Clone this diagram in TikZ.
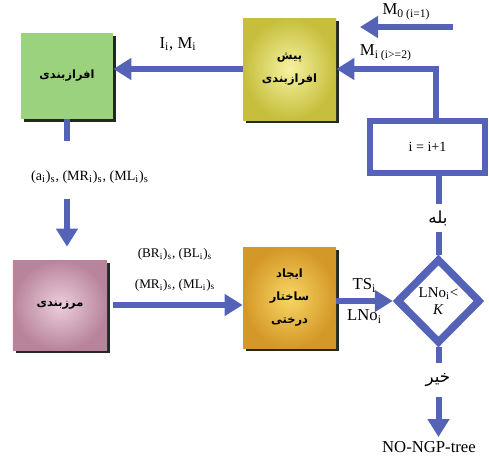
\documentclass[tikz,border=0pt]{standalone}
\usepackage{fontspec}
\setmainfont{Liberation Serif}
\newfontfamily\farsifont[Script=Arabic]{DejaVu Sans}
\TeXXeTstate=1
\usepackage{xcolor}
\usepackage{tikz}
\usetikzlibrary{arrows.meta, positioning, shapes.geometric, shadows}

\definecolor{flowblue}{RGB}{84,98,184}
\definecolor{shadowdark}{RGB}{32,42,32}
\definecolor{boxgreen}{RGB}{155,210,125}
\definecolor{yellowin}{RGB}{246,242,160}
\definecolor{yellowout}{RGB}{198,190,60}
\definecolor{pinkin}{RGB}{236,206,220}
\definecolor{pinkout}{RGB}{184,132,156}
\definecolor{orangein}{RGB}{248,214,100}
\definecolor{orangeout}{RGB}{212,152,40}

\newcommand{\fatxt}[1]{{\farsifont\bfseries\beginR #1\endR}}
\newcommand{\fasmall}[1]{{\farsifont\beginR #1\endR}}

\begin{document}
\begin{tikzpicture}[
        node distance=4.5cm,
        % Node styles
        box/.style={rectangle, minimum width=1.86cm, minimum height=2.04cm, text centered, align=center,
                    inner sep=0pt, font=\fontsize{6.5}{13}\selectfont,
                    drop shadow={shadow xshift=0.06cm, shadow yshift=-0.06cm, fill=shadowdark, opacity=1}},
        greenbox/.style={box, fill=boxgreen, minimum width=1.84cm, minimum height=1.72cm},
        yellowbox/.style={box, inner color=yellowin, outer color=yellowout},
        pinkbox/.style={box, inner color=pinkin, outer color=pinkout, minimum width=1.88cm, minimum height=1.80cm},
        orangebox/.style={box, inner color=orangein, outer color=orangeout, minimum height=2.02cm},
        counter/.style={rectangle, draw=flowblue, line width=0.13cm, fill=white, minimum width=2.30cm,
                        minimum height=1.04cm, font=\fontsize{8}{10}\selectfont},
        decision/.style={diamond, draw=flowblue, line width=0.15cm, fill=white, align=center, inner sep=0pt,
                         minimum width=1.68cm, minimum height=1.70cm, font=\fontsize{8.5}{10}\selectfont},
        tag/.style={inner sep=0pt, font=\fontsize{9.5}{11}\selectfont},
        smalltag/.style={inner sep=0pt, align=center, font=\fontsize{7.5}{9}\selectfont},
        flowline/.style={draw=flowblue, line width=0.12cm},
        arrow/.style={flowline, -{Triangle[length=0.36cm, width=0.42cm]}}
    ]
        \useasboundingbox (0,0) rectangle (9.78,-9.12);

        % Main boxes
        \node[greenbox] (green) at (1.34,-1.52) {\fatxt{افرازبندی}};
        \node[yellowbox, right of=green, xshift=-0.05cm, yshift=0.14cm] (pre) {\fatxt{پیش}\\\fatxt{افرازبندی}};
        \node[pinkbox, below of=green, xshift=-0.14cm, yshift=-0.08cm] (pink) {\fatxt{مرزبندی}};
        \node[orangebox, right of=pink, xshift=0.09cm, yshift=0.15cm] (tree) {\fatxt{ایجاد}\\\fatxt{ساختار}\\\fatxt{درختی}};

        % Decision and counter
        \node[decision, right of=tree, xshift=-1.52cm, yshift=-0.07cm] (dec) {LNo\textsubscript{i}<\\\textit{K}};
        \node[counter, above of=dec, xshift=-0.22cm, yshift=-1.42cm] (inc) {i = i+1};

        % Free labels
        \node[tag, font=\fontsize{8}{10}\selectfont] (coef) at (1.80,-3.54) {(a\textsubscript{i})\textsubscript{s}, (MR\textsubscript{i})\textsubscript{s}, (ML\textsubscript{i})\textsubscript{s}};
        \node[tag, minimum height=0.56cm] (yes) at (8.76,-4.36) {\fasmall{بله}};
        \node[tag, minimum height=0.68cm] (no) at (8.76,-7.6) {\fasmall{خیر}};
        \node[tag] (endnode) at (8.58,-8.94) {NO-NGP-tree};
        \coordinate (mstart) at (9.06,-0.54);
        \coordinate (mend) at (7.20,-0.54);

        % Top row
        \draw[arrow] (mstart) -- node[above=0.08cm, tag] {M\textsubscript{0 (i=1)}} (mend);
        \draw[arrow] (pre.west) -- node[above=0.3cm, tag] {I\textsubscript{i}, M\textsubscript{i}} (pre.west -| green.east);

        % Down to boundaries
        \draw[flowline] (green.south) -- ([yshift=0.58cm]coef.north -| green.south);
        \draw[arrow] ([yshift=-0.3cm]coef.south -| green.south) -- ([yshift=0.26cm]pink.north -| green.south);

        % Bottom row
        \draw[arrow, shorten <=0.12cm] (pink.east) -- node[above=0.22cm, smalltag] {(BR\textsubscript{i})\textsubscript{s}, (BL\textsubscript{i})\textsubscript{s}\\[0.3cm](MR\textsubscript{i})\textsubscript{s}, (ML\textsubscript{i})\textsubscript{s}} (pink.east -| tree.west);
        \draw[arrow] (tree.east |- dec.west) -- node[above=0.12cm, tag] {TS\textsubscript{i}} node[below=0.12cm, tag] {LNo\textsubscript{i}} (dec.west);

        % Loop back
        \draw[flowline] (dec.north) -- (dec.north |- yes.south);
        \draw[flowline] (dec.north |- yes.north) -- (dec.north |- inc.south);
        \draw[arrow] ([xshift=-0.06cm]inc.north -| dec.north) |- node[pos=0.75, above=0.1cm, tag] {M\textsubscript{i (i>=2)}} (pre.east);

        % Exit
        \draw[flowline] (dec.south) -- (dec.south |- no.north);
        \draw[arrow, shorten >=0.08cm] (dec.south |- no.south) -- (dec.south |- endnode.north);
    \end{tikzpicture}
\end{document}
